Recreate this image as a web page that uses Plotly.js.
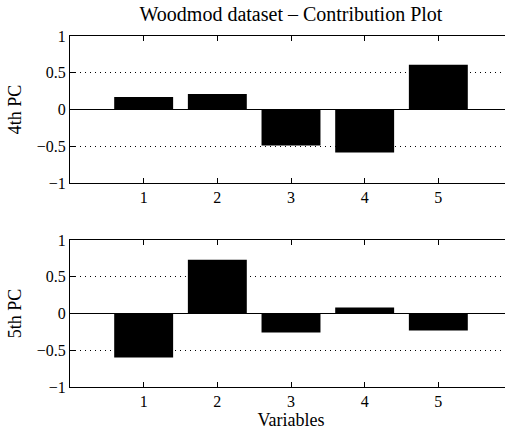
<!DOCTYPE html>
<html><head><meta charset="utf-8">
<script src="https://cdn.plot.ly/plotly-3.0.1.min.js"></script>
<style>html,body{margin:0;padding:0;overflow:hidden;background:#fff;width:505px;height:431px}</style>
</head><body><div id="chart"></div>
<script>
const variables = [1, 2, 3, 4, 5];
const pc4 = [0.17, 0.21, -0.49, -0.585, 0.61];
const pc5 = [-0.60, 0.73, -0.26, 0.08, -0.23];
const tickVals = [-1, -0.5, 0, 0.5, 1];
const tickText = ['\u22121', '\u22120.5', '0', '0.5', '1'];

const font = {family: '"Liberation Serif", "Times New Roman", serif', color: '#000'};
const bar = (y, xa, ya) => ({type: 'bar', x: variables, y: y, xaxis: xa, yaxis: ya,
  width: 0.8, marker: {color: '#000', line: {width: 0}}, showlegend: false, hoverinfo: 'none'});

const xax = (anchor) => ({anchor: anchor, range: [0, 6], tickvals: variables, ticktext: variables.map(String),
  ticks: 'inside', ticklen: 5, tickcolor: '#000', showline: true, linecolor: '#000', linewidth: 1,
  mirror: 'ticks', showgrid: false, zeroline: false, tickfont: Object.assign({size: 16}, font), fixedrange: true});
const yax = (anchor, domain, title) => ({anchor: anchor, domain: domain, range: [-1, 1], tickvals: tickVals, ticktext: tickText,
  ticks: 'inside', ticklen: 5, tickcolor: '#000', showline: true, linecolor: '#000', linewidth: 1, mirror: 'ticks',
  showgrid: true, gridcolor: '#000', griddash: '1px,4px', gridwidth: 1,
  zeroline: true, zerolinecolor: '#000', zerolinewidth: 1,
  tickfont: Object.assign({size: 16}, font), title: {text: title, font: Object.assign({size: 18}, font), standoff: 10}, fixedrange: true});

const layout = {
  width: 512, height: 431,
  margin: {l: 70, r: 0, t: 36, b: 44},
  paper_bgcolor: '#fff', plot_bgcolor: '#fff',
  title: {text: 'Woodmod dataset \u2013 Contribution Plot', font: Object.assign({size: 20}, font),
    x: 0.5, xref: 'paper', y: 1, yref: 'container', yanchor: 'top', pad: {t: 7}},
  xaxis: xax('y'),
  yaxis: yax('x', [0.581, 1], '4th PC'),
  xaxis2: Object.assign(xax('y2'), {title: {text: 'Variables', font: Object.assign({size: 18}, font), standoff: 0}}),
  yaxis2: yax('x2', [0, 0.419], '5th PC'),
  bargap: 0.2
};

Plotly.newPlot('chart', [bar(pc4, 'x', 'y'), bar(pc5, 'x2', 'y2')], layout, {displayModeBar: false, staticPlot: true});
</script></body></html>
